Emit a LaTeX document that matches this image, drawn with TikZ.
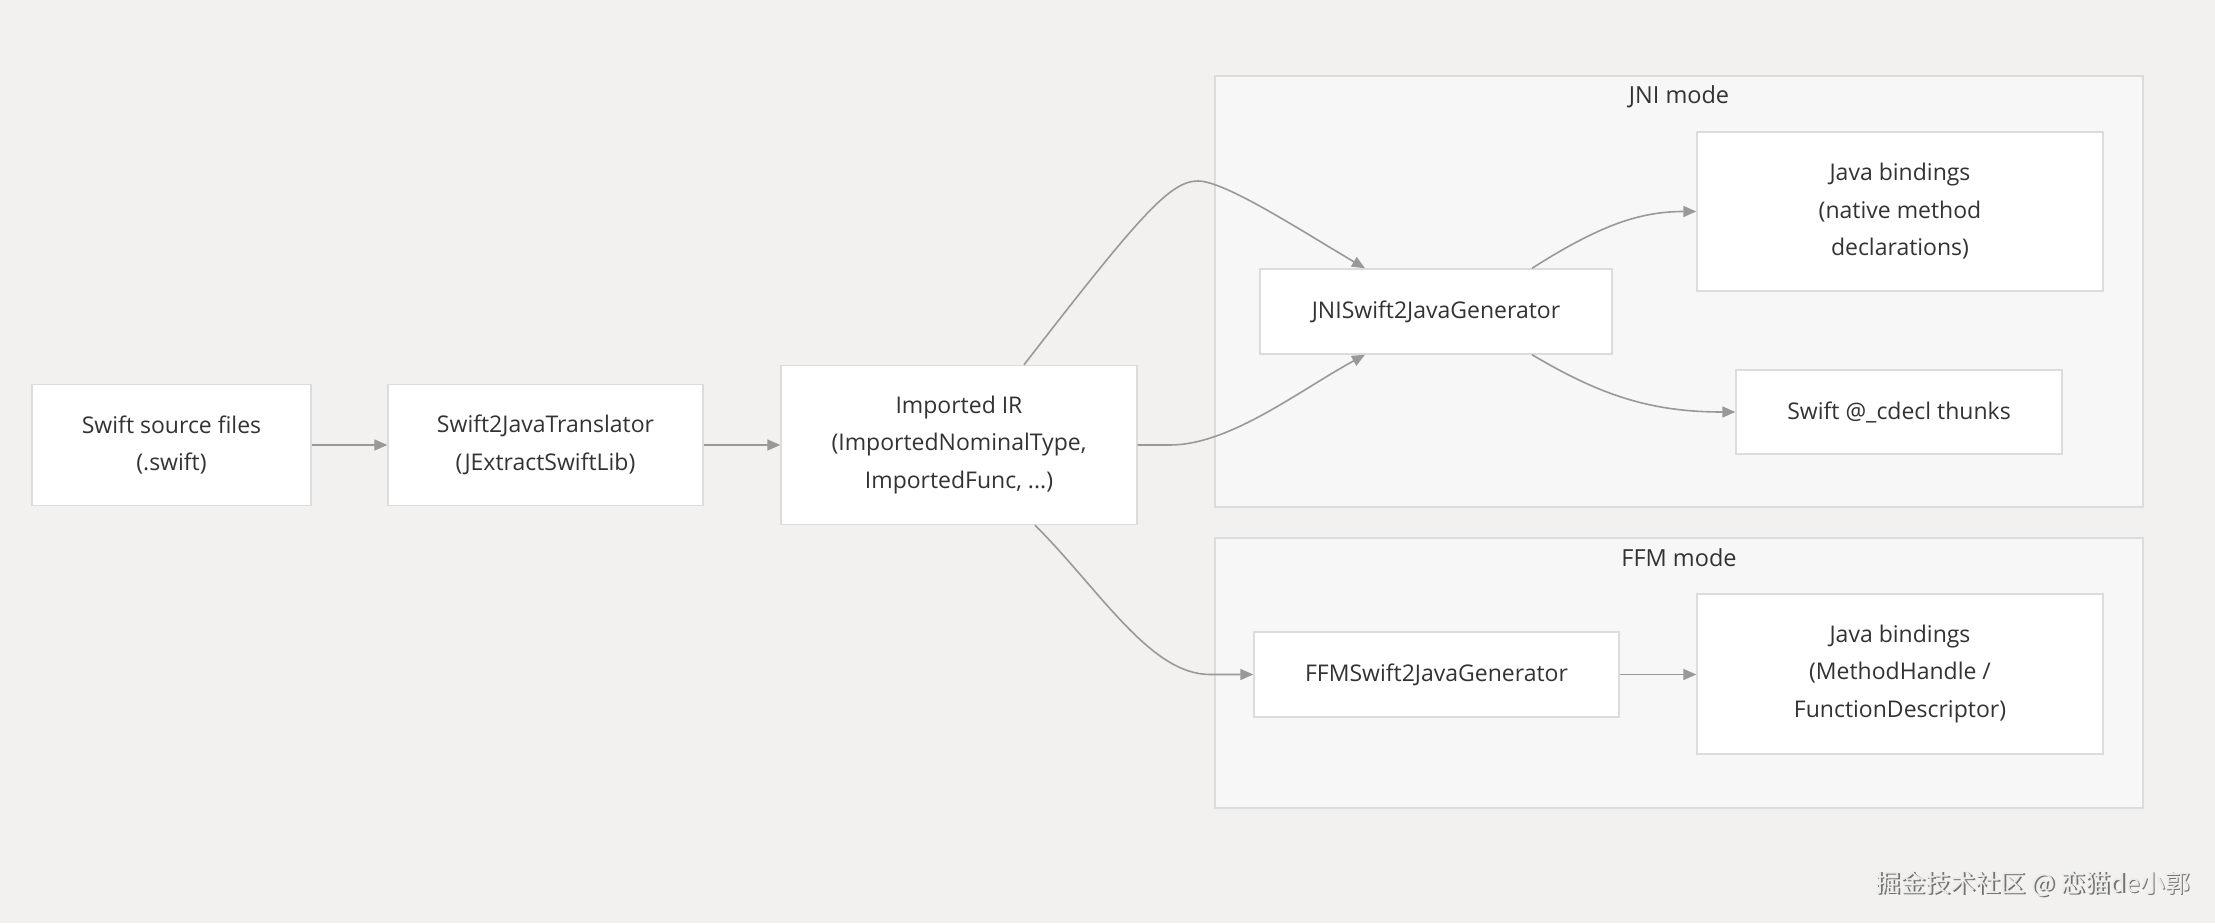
\documentclass[tikz,border=0pt]{standalone}
\usepackage{fontspec}
\setmainfont{Open Sans}
\newfontfamily\cjkfont{Noto Sans CJK SC}
\usetikzlibrary{arrows.meta,calc}
\definecolor{bgc}{HTML}{F2F1EF}
\definecolor{clfill}{HTML}{F7F7F7}
\definecolor{bordc}{HTML}{DCDCDC}
\definecolor{edgec}{HTML}{999999}
\definecolor{txtc}{HTML}{333333}
\tikzset{
  box/.style={draw=bordc, line width=1.4pt, fill=white, inner sep=0pt, align=center,
    text=txtc, font=\fontsize{23}{37.5}\selectfont},
  cluster/.style={draw=bordc, line width=1.4pt, fill=clfill},
  cltitle/.style={text=txtc, font=\fontsize{23.5}{28}\selectfont, inner sep=0pt},
  conn/.style={draw=edgec, line width=1.6pt, -{Triangle[length=13pt,width=11pt]}},
}
\begin{document}
\begin{tikzpicture}[x=1pt,y=-1pt]
\useasboundingbox (0,0) rectangle (2215,923);
\fill[bgc] (0,0) rectangle (2215,923);

% clusters
\draw[cluster] (1215,76) rectangle (2143,507);
\node[cltitle] (jnititle) at (1679,97) {JNI mode};
\draw[cluster] (1215,538) rectangle (2143,808);
\node[cltitle] (ffmtitle) at (1679,558) {FFM mode};

% nodes
\node[box, minimum width=279pt, minimum height=121pt] (src) at (171.5,445) {Swift source files\\(.swift)};
\node[box, minimum width=315pt, minimum height=121pt] (trans) at (545.5,445) {Swift2JavaTranslator\\(JExtractSwiftLib)};
\node[box, minimum width=356pt, minimum height=159pt] (ir) at (959,445) {Imported IR\\(ImportedNominalType,\\ImportedFunc, ...)};
\node[box, minimum width=352pt, minimum height=85pt] (jnigen) at (1436,311.5) {JNISwift2JavaGenerator};
\node[box, minimum width=406pt, minimum height=159pt] (jb1) at (1900,211.5) {Java bindings\\(native method\\declarations)};
\node[box, minimum width=326pt, minimum height=84pt] (thunks) at (1899,412) {Swift @\_cdecl thunks};
\node[box, minimum width=365pt, minimum height=85pt] (ffmgen) at (1436.5,674.5) {FFMSwift2JavaGenerator};
\node[box, minimum width=406pt, minimum height=160pt] (jb2) at (1900,674) {Java bindings\\(MethodHandle /\\FunctionDescriptor)};

% connectors
\draw[conn] (src.east) -- (trans.west);
\draw[conn] (trans.east) -- (ir.west);
\draw[conn] ([xshift=65pt]ir.north) .. controls (1140,215) and (1170,181) .. (1198,181)
  .. controls (1225,181) and (1300,230) .. ([xshift=-71pt]jnigen.north);
\draw[conn] (ir.east) -- (1170,445) .. controls (1230,445) and (1300,390) .. ([xshift=-71pt]jnigen.south);
\draw[conn] ([xshift=76pt]ir.south) .. controls (1100,590) and (1150,674.5) .. (1210,674.5) -- (ffmgen.west);
\draw[conn] ([xshift=96pt]jnigen.north) .. controls (1600,225) and (1640,211.5) .. (jb1.west);
\draw[conn] ([xshift=96pt]jnigen.south) .. controls (1600,395) and (1650,412) .. (thunks.west);
\draw[conn] (ffmgen.east) -- (ffmgen.east -| jb2.west);

% watermark
\node[text=gray!90!black, font=\cjkfont\fontsize{25}{30}\selectfont, inner sep=0pt] (wmshadow) at (2034.5,885.5) {掘金技术社区 @ 恋猫de小郭};
\node[text=white!92!black, font=\cjkfont\fontsize{25}{30}\selectfont, inner sep=0pt] (wm) at (2033,884) {掘金技术社区 @ 恋猫de小郭};
\end{tikzpicture}
\end{document}
